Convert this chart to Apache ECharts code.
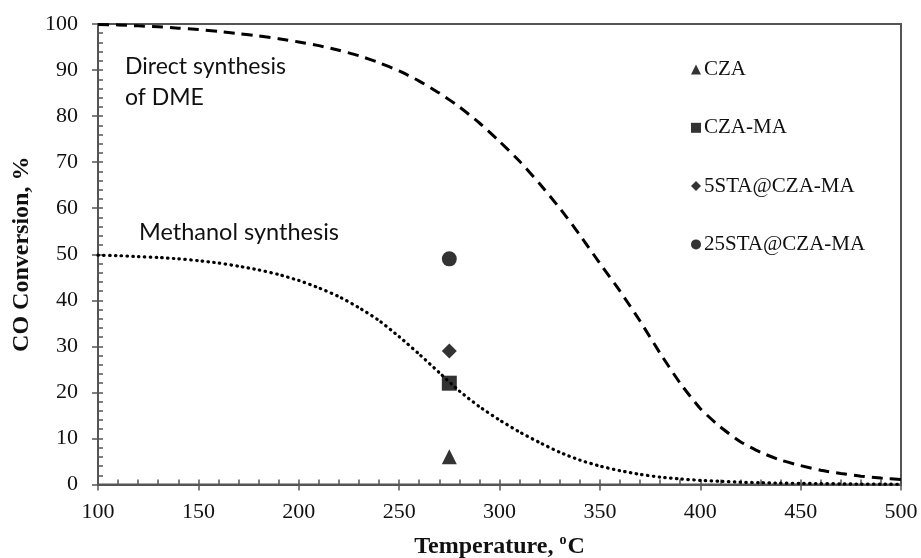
<!DOCTYPE html>
<html>
<head>
<meta charset="utf-8">
<script src="https://cdn.jsdelivr.net/npm/echarts@6/dist/echarts.min.js"></script>
<style>
  html, body { margin: 0; padding: 0; background: #fff; }
  #chart { width: 921px; height: 558px; }
</style>
</head>
<body>
<div id="chart"></div>
<script>
// Equilibrium CO conversion curves (temperature in °C, conversion in %)
const curveTemps = [100, 110, 120, 130, 140, 150, 160, 170, 180, 190,
                    200, 210, 220, 230, 240, 250, 260, 270, 280, 290,
                    300, 310, 320, 330, 340, 350, 360, 370, 380, 390,
                    400, 410, 420, 430, 440, 450, 460, 470, 480, 490, 500];

const dmeConv  = [99.9, 99.8, 99.6, 99.4, 99.1, 98.8, 98.4, 97.9, 97.4, 96.8,
                  96.1, 95.3, 94.3, 93.1, 91.6, 89.8, 87.6, 85.0, 82.0, 78.5,
                  74.5, 70.2, 65.3, 60.0, 54.2, 48.0, 42.0, 35.5, 28.5, 22.0,
                  16.5, 12.5, 9.3, 7.0, 5.3, 4.1, 3.1, 2.4, 1.8, 1.4, 1.1];

const meohConv = [49.8, 49.7, 49.5, 49.3, 49.0, 48.6, 48.1, 47.4, 46.6, 45.6,
                  44.3, 42.7, 40.8, 38.4, 35.6, 32.1, 28.3, 24.3, 20.3, 16.9,
                  14.0, 11.4, 9.1, 7.0, 5.3, 4.0, 3.0, 2.2, 1.6, 1.2,
                  0.9, 0.7, 0.5, 0.4, 0.3, 0.25, 0.2, 0.15, 0.1, 0.08, 0.05];

// Measured conversion of each catalyst at 275 °C
const catalysts   = ['CZA', 'CZA-MA', '5STA@CZA-MA', '25STA@CZA-MA'];
const catSymbols  = ['triangle', 'rect', 'diamond', 'circle'];
const catTemp     = 275;
const catConv     = [6, 22, 29, 49];

// Axis ticks
const xTicks = { min: 100, max: 500, step: 50 };
const yTicks = { min: 0, max: 100, step: 10 };

const axisColor = '#555';
const serif = '"Liberation Serif", "Times New Roman", serif';

function pairs(xs, ys) { return xs.map((x, i) => [x, ys[i]]); }

const chart = echarts.init(document.getElementById('chart'), null, { renderer: 'canvas' });

const baseX = {
  type: 'value', min: xTicks.min, max: xTicks.max, interval: xTicks.step,
  position: 'bottom', splitLine: { show: false },
  axisLine: { show: true, lineStyle: { color: axisColor, width: 2 } }
};
const baseY = {
  type: 'value', min: yTicks.min, max: yTicks.max, interval: yTicks.step,
  position: 'left', splitLine: { show: false },
  axisLine: { show: true, lineStyle: { color: axisColor, width: 2 } }
};

const scatterSeries = catalysts.map((name, i) => ({
  name: name,
  type: 'scatter',
  symbol: catSymbols[i],
  symbolSize: 15,
  itemStyle: { color: '#000' },
  z: 5,
  data: [[catTemp, catConv[i]]]
}));

chart.setOption({
  animation: false,
  backgroundColor: '#fff',
  grid: {
    left: 98, right: 20, top: 24, bottom: 73.5,
    containLabel: false, outerBoundsMode: 'none',
    show: true, borderColor: axisColor, borderWidth: 2, backgroundColor: 'transparent'
  },
  xAxis: [
    Object.assign({}, baseX, {
      axisTick: { show: true, inside: false, length: 6, lineStyle: { color: axisColor, width: 1.5 } },
      axisLabel: { show: true, margin: 17, color: '#111', fontFamily: serif, fontSize: 22 },
      name: '{b|Temperature, }{s|o}{b|C}',
      nameLocation: 'middle',
      nameGap: 49,
      nameTextStyle: {
        rich: {
          b: { fontFamily: serif, fontWeight: 'bold', fontSize: 24, color: '#111', lineHeight: 26 },
          s: { fontFamily: serif, fontWeight: 'bold', fontSize: 14, color: '#111', verticalAlign: 'top', lineHeight: 26, padding: [0, 1, 0, 0] }
        }
      }
    }),
    Object.assign({}, baseX, {
      axisTick: { show: true, inside: true, length: 5, lineStyle: { color: axisColor, width: 1.5 } },
      minorTick: { show: true, splitNumber: 5, length: 5, lineStyle: { color: axisColor, width: 1.5 } },
      axisLabel: { show: false }
    })
  ],
  yAxis: [
    Object.assign({}, baseY, {
      axisTick: { show: true, inside: false, length: 6, lineStyle: { color: axisColor, width: 1.5 } },
      axisLabel: { show: true, margin: 20, color: '#111', fontFamily: serif, fontSize: 22 },
      name: 'CO Conversion, %',
      nameLocation: 'middle',
      nameGap: 63,
      nameTextStyle: { fontFamily: serif, fontWeight: 'bold', fontSize: 24, color: '#111' }
    }),
    Object.assign({}, baseY, {
      axisTick: { show: true, inside: true, length: 5, lineStyle: { color: axisColor, width: 1.5 } },
      minorTick: { show: true, splitNumber: 5, length: 5, lineStyle: { color: axisColor, width: 1.5 } },
      axisLabel: { show: false }
    })
  ],
  legend: {
    orient: 'vertical',
    left: 686, top: 54,
    itemWidth: 10, itemHeight: 10, itemGap: 37.3,
    textStyle: { fontFamily: serif, fontSize: 21, color: '#111', lineHeight: 21, padding: [0, 0, 0, -2] },
    data: catalysts.map((n, i) => ({ name: n, icon: catSymbols[i] }))
  },
  graphic: [
    {
      type: 'text', left: 125, top: 51, z: 10,
      style: { text: 'Direct synthesis\nof DME', font: '23px Lato, "Open Sans", sans-serif', fill: '#111', lineHeight: 31 }
    },
    {
      type: 'text', left: 139, top: 216.5, z: 10,
      style: { text: 'Methanol synthesis', font: '23.5px Lato, "Open Sans", sans-serif', fill: '#111', lineHeight: 31 }
    }
  ],
  series: [
    {
      name: 'Direct synthesis of DME',
      type: 'line', smooth: 0.2, showSymbol: false, symbol: 'none',
      xAxisIndex: 0, yAxisIndex: 0,
      lineStyle: { color: '#000', width: 3, type: [11, 7] },
      data: pairs(curveTemps, dmeConv), z: 3
    },
    {
      name: 'Methanol synthesis',
      type: 'line', smooth: 0.2, showSymbol: false, symbol: 'none',
      xAxisIndex: 0, yAxisIndex: 0,
      lineStyle: { color: '#000', width: 3.2, type: [0.5, 5.3], cap: 'round' },
      data: pairs(curveTemps, meohConv), z: 3
    }
  ].concat(scatterSeries)
});
</script>
</body>
</html>
